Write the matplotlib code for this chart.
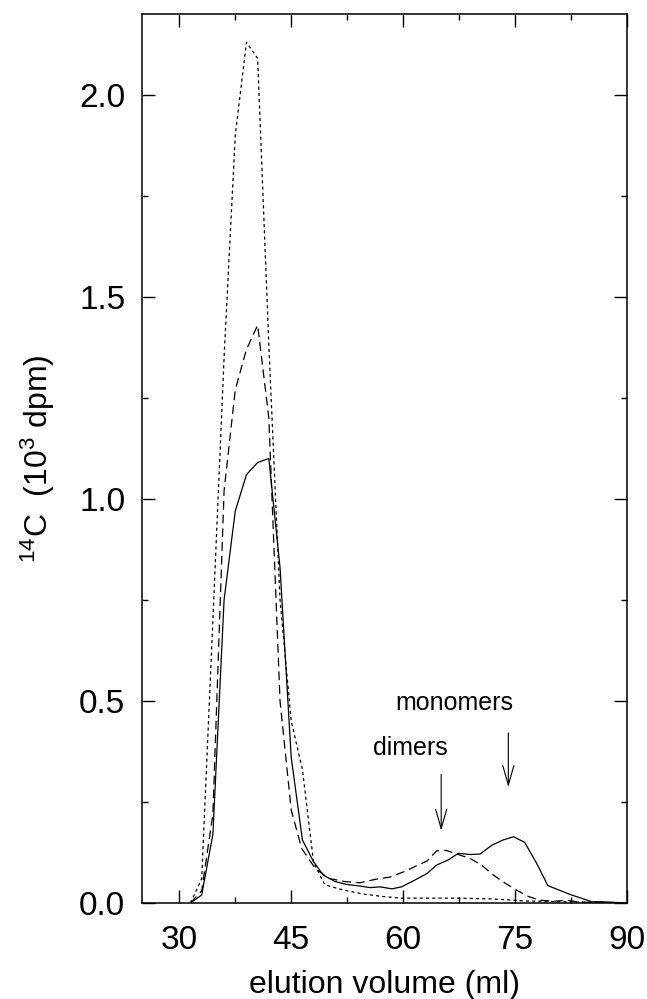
import numpy as np
import matplotlib
matplotlib.use("Agg")
import matplotlib.pyplot as plt
from matplotlib.ticker import MultipleLocator, FormatStrFormatter

# ---------------------------------
# Data
# ---------------------------------
solid_x = [31.5, 33.0, 34.5, 36.0, 37.5, 39.0, 40.5, 42.0, 43.5, 45.0,
           46.5, 48.0, 49.3, 50.9, 52.4, 54.2, 55.6, 56.9, 58.5, 59.8,
           61.6, 63.2, 64.5, 66.0, 67.4, 69.0, 70.3, 71.9, 73.4, 74.8,
           76.3, 77.9, 79.4, 82.4, 85.3, 86.8, 90.0]
solid_y = [0.0, 0.02, 0.17, 0.75, 0.97, 1.06, 1.09, 1.10, 0.83, 0.36,
           0.156, 0.102, 0.069, 0.053, 0.046, 0.042, 0.038, 0.040, 0.035, 0.040,
           0.057, 0.073, 0.094, 0.106, 0.123, 0.120, 0.121, 0.143, 0.156, 0.164,
           0.150, 0.098, 0.043, 0.021, 0.003, 0.003, 0.0]

dashed_x = [31.5, 33.0, 34.5, 36.0, 37.5, 39.0, 40.5, 42.0, 43.5, 45.0,
            46.4, 48.2, 50.0, 52.2, 54.2, 56.4, 58.2, 60.2, 61.8, 63.2,
            64.5, 65.8, 67.4, 69.0, 70.5, 72.1, 73.6, 75.2, 76.8, 78.3,
            80.1, 81.9, 83.7, 90.0]
dashed_y = [0.0, 0.03, 0.22, 1.02, 1.27, 1.37, 1.43, 1.20, 0.50, 0.23,
            0.135, 0.086, 0.061, 0.053, 0.050, 0.059, 0.064, 0.078, 0.092, 0.104,
            0.129, 0.130, 0.120, 0.110, 0.094, 0.069, 0.050, 0.032, 0.016, 0.007,
            0.004, 0.007, 0.002, 0.0]

dotted_x = [31.5, 33.0, 34.5, 36.0, 37.5, 39.0, 40.5, 42.0, 43.5, 45.0,
            46.5, 48.0, 49.5, 52.0, 54.7, 57.3, 59.8, 67.4, 72.0, 76.5, 90.0]
dotted_y = [0.0, 0.06, 0.70, 1.35, 1.90, 2.13, 2.09, 1.38, 0.75, 0.45,
            0.33, 0.10, 0.045, 0.032, 0.022, 0.016, 0.012, 0.012, 0.010, 0.005, 0.0]

# arrows: text position, arrow x, arrow top, arrow tip
labels = ["dimers", "monomers"]
label_x = [61.0, 66.8]
label_y = [0.384, 0.496]
arrow_x = [65.1, 74.1]
arrow_top = [0.325, 0.428]
arrow_tip = [0.172, 0.28]

# ---------------------------------
# Style
# ---------------------------------
plt.rcParams["font.family"] = ["Liberation Sans", "DejaVu Sans"]
plt.rcParams["mathtext.default"] = "regular"

fig = plt.figure(figsize=(6.47, 9.99), dpi=100)
ax = fig.add_axes([0.2195, 0.0961, 0.7495, 0.8899])

# ---------------------------------
# Curves
# ---------------------------------
ax.plot(solid_x, solid_y, color="black", lw=0.9)
ax.plot(dashed_x, dashed_y, color="black", lw=0.9, dashes=(7, 4))
ax.plot(dotted_x, dotted_y, color="black", lw=0.9, dashes=(2.5, 2.5))

# ---------------------------------
# Annotations
# ---------------------------------
for i in range(len(labels)):
    ax.text(label_x[i], label_y[i], labels[i], fontsize=18,
            ha="center", va="center")
    ax.annotate("", xy=(arrow_x[i], arrow_tip[i]),
                xytext=(arrow_x[i], arrow_top[i]),
                arrowprops=dict(arrowstyle="->,head_length=1.4,head_width=0.4",
                                color="black", lw=0.8))

# ---------------------------------
# Axes
# ---------------------------------
ax.set_xlim(25, 90)
ax.set_ylim(0, 2.2)

ax.xaxis.set_major_locator(MultipleLocator(15))
ax.xaxis.set_minor_locator(MultipleLocator(7.5))
ax.yaxis.set_major_locator(MultipleLocator(0.5))
ax.yaxis.set_minor_locator(MultipleLocator(0.25))
ax.yaxis.set_major_formatter(FormatStrFormatter("%.1f"))

ax.tick_params(which="both", direction="in", top=True, right=True, width=1.0)
ax.tick_params(which="major", length=9.5, labelsize=24)
ax.tick_params(which="minor", length=4.5)
ax.tick_params(axis="x", which="major", pad=16)
ax.tick_params(axis="y", which="major", pad=12)

for s in ax.spines.values():
    s.set_linewidth(1.1)

ax.set_xlabel("elution volume (ml)", fontsize=23, labelpad=10)
ax.set_ylabel("$^{14}$C  (10$^{3}$ dpm)", fontsize=23, labelpad=16)

plt.savefig("out.png", dpi=100)
